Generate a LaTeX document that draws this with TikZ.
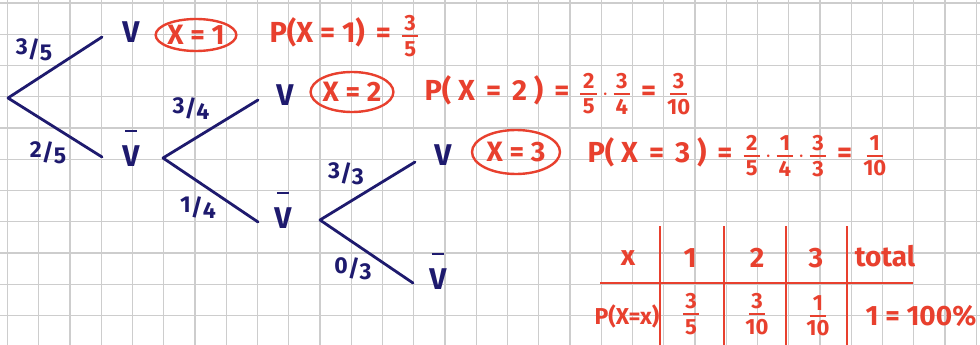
\documentclass[tikz,border=0pt]{standalone}
\usepackage{fontspec}
\setmainfont{Fira Sans}
\usetikzlibrary{positioning,shapes.geometric}
\definecolor{navy}{HTML}{1E1A6E}
\definecolor{pen}{HTML}{E8402E}
\definecolor{gridgray}{HTML}{CDCDCD}
\newcommand{\fracfont}{\fontsize{22}{22}\selectfont\bfseries}
\newcommand{\fr}[2]{$\vcenter{\hbox{\fracfont\shortstack{#1\\[1pt]\rule{0.75em}{2.2pt}\\[1pt]#2}}}$}
\newcommand{\slfrac}[2]{\raisebox{3pt}{#1}/\raisebox{-3pt}{#2}}
\newcommand{\eq}{\hspace{11pt}=\hspace{11pt}}
\newcommand{\notv}{\leavevmode\setbox0\hbox{V}%
  \vbox{\hbox to\wd0{\hss\rule{0.7\wd0}{2.6pt}\hss}\vskip4pt\box0}}

\begin{document}
\begin{tikzpicture}[x=1pt, y=-1pt,
  gridline/.style={gridgray, line width=1.2pt},
  branch/.style={navy, line width=2.8pt, line cap=round},
  leaf/.style={navy, font=\fontsize{30}{30}\selectfont\bfseries},
  prob/.style={navy, font=\fontsize{23}{23}\selectfont\bfseries},
  event/.style={draw=pen, ellipse, line width=2.4pt, text=pen, inner sep=0pt,
    minimum width=80pt, minimum height=32pt, font=\fontsize{28}{28}\selectfont\bfseries},
  calc/.style={text=pen, anchor=west, font=\fontsize{29}{29}\selectfont\bfseries},
  cell/.style={text=pen, font=\fontsize{28}{28}\selectfont\bfseries},
  tabline/.style={pen, line width=2.6pt}]
\fill[white] (0,0) rectangle (980,345);
\useasboundingbox (0,0) rectangle (980,345);
% squared paper
\foreach \i in {0,...,31}
  \draw[gridline] ({7.5+31.25*\i},0) -- ++(0,345);
\foreach \j in {0,...,10}
  \draw[gridline] (0,{3+31.25*\j}) -- ++(980,0);

% tree, first draw
\coordinate (r1) at (8,98);
\coordinate (u1) at (102,37);
\coordinate (d1) at (102,157);
\node[leaf] (v1) at (131,32) {V};
\node[leaf] (nv1) at (131,148) {\notv};
\draw[branch] (r1) -- (u1);
\draw[branch] (r1) -- (d1);
\node[prob] (p1) at (34,50) {\slfrac{3}{5}};
\node[prob] (q1) at (48,153) {\slfrac{2}{5}};

% second draw
\coordinate (r2) at (163,158);
\coordinate (u2) at (258,100);
\coordinate (d2) at (258,222);
\node[leaf] (v2) at (285,95) {V};
\node[leaf] (nv2) at (283,210) {\notv};
\draw[branch] (r2) -- (u2);
\draw[branch] (r2) -- (d2);
\node[prob] (p2) at (191,109) {\slfrac{3}{4}};
\node[prob] (q2) at (198,208) {\slfrac{1}{4}};

% third draw
\coordinate (r3) at (320,220);
\coordinate (u3) at (415,162);
\coordinate (d3) at (413,283);
\node[leaf] (v3) at (443,155) {V};
\node[leaf] (nv3) at (438,271) {\notv};
\draw[branch] (r3) -- (u3);
\draw[branch] (r3) -- (d3);
\node[prob] (p3) at (346,174) {\slfrac{3}{3}};
\node[prob] (q3) at (353,269) {\slfrac{0}{3}};

% events and probabilities
\node[event] (e1) at (196,35) {X = 1};
\node[event, minimum height=40pt] (e2) at (352,92) {X = 2};
\node[event, minimum width=88pt, minimum height=44pt] (e3) at (516,152) {X = 3};
\node[calc] (c1) at (266,36) {P(X = 1)\eq\fr{3}{5}};
\node[calc] (c2) at (421,94) {P( X\eq2 )\eq\fr{2}{5}\,$\cdot$\,\fr{3}{4}\eq\fr{3}{10}};
\node[calc] (c3) at (584,156) {P( X\eq3 )\eq\fr{2}{5}\,$\cdot$\,\fr{1}{4}\,$\cdot$\,\fr{3}{3}\eq\fr{1}{10}};

% table
\draw[tabline] (600,283) -- (913,283);
\foreach \x in {660,724,786,847}
  \draw[tabline] (\x,226) -- (\x,345);
\node[cell] (hx) at (628,258) {x};
\node[cell] (h1) at (690,258) {1};
\node[cell] (h2) at (757,258) {2};
\node[cell] (h3) at (816,258) {3};
\node[cell] (ht) at (885,256) {total};
\node[cell, font=\fontsize{23}{23}\selectfont\bfseries] (px) at (627,316) {P(X=x)};
\node[cell] (f1) at (691,314) {\fr{3}{5}};
\node[cell] (f2) at (757,314) {\fr{3}{10}};
\node[cell] (f3) at (818,316) {\fr{1}{10}};
\node[cell] (tot) at (921,316) {1 = 100\%};
\end{tikzpicture}
\end{document}
